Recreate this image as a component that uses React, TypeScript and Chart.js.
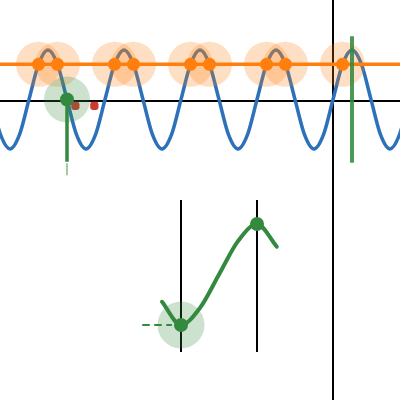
import { useEffect, useRef } from 'react';
import { Chart, registerables } from 'chart.js';

Chart.register(...registerables);

// ---- top panel (phase units: one unit = one wave period) ----
const waveX = [
  -0.5, -0.375, -0.25, -0.125, 0, 0.125, 0.25, 0.375, 0.5, 0.625, 0.75, 0.875,
  1, 1.125, 1.25, 1.375, 1.5, 1.625, 1.75, 1.875,
  2, 2.125, 2.25, 2.375, 2.5, 2.625, 2.75, 2.875,
  3, 3.125, 3.25, 3.375, 3.5, 3.625, 3.75, 3.875,
  4, 4.125, 4.25, 4.375, 4.5, 4.625, 4.75, 4.875, 5,
];
const waveY = [
  0, -0.71, -1, -0.71, 0, 0.71, 1, 0.71, 0, -0.71, -1, -0.71,
  0, 0.71, 1, 0.71, 0, -0.71, -1, -0.71,
  0, 0.71, 1, 0.71, 0, -0.71, -1, -0.71,
  0, 0.71, 1, 0.71, 0, -0.71, -1, -0.71,
  0, 0.71, 1, 0.71, 0, -0.71, -1, -0.71, 0,
];
const levelY = 0.71;
const axisY = -0.03;
const crossX = [0.125, 0.375, 1.125, 1.375, 2.125, 2.375, 3.125, 3.375, 4.125];
const markX = 0.5;
const markY = 0;
const stemLow = -1.26;
const whiskerTop = -1.29;
const whiskerLow = -1.53;
const peakLineX = 4.25;
const peakLineTop = 1.28;
const peakLineLow = -1.28;
const vLineX = 4;
const redX = [0.61, 0.86];
const redY = -0.13;

// ---- bottom panel ----
const curveX = [-0.25, 0, 0.25, 0.5, 0.75, 1, 1.26];
const curveY = [-0.54, -1, -0.66, 0, 0.66, 1, 0.55];
const dotX = [0, 1];
const dotY = [-1, 1];
const guideX = [0, 1];
const guideTop = 1.475;
const guideLow = -1.535;
const dashX = [-0.51, -0.12];
const dashY = -1;

const BLUE = '#2d72b8';
const ORANGE = '#ff7f0e';
const GREEN = '#338a3e';
const RED = '#cc3b30';

export default function App() {
  const ref = useRef<HTMLCanvasElement | null>(null);

  useEffect(() => {
    if (!ref.current) return;
    const line = (pts: { x: number; y: number }[], color: string, width: number, order: number, extra: any = {}) => ({
      type: 'scatter' as const,
      data: pts,
      showLine: true,
      borderColor: color,
      borderWidth: width,
      pointRadius: 0,
      fill: false,
      order,
      xAxisID: 'x',
      yAxisID: 'y',
      ...extra,
    });
    const pts = (xs: number[], ys: number[]) => xs.map((x, i) => ({ x, y: ys[i] }));
    const dots = (p: { x: number; y: number }[], color: string, r: number, order: number, extra: any = {}) => ({
      type: 'scatter' as const,
      data: p,
      showLine: false,
      pointRadius: r,
      pointHoverRadius: r,
      pointBackgroundColor: color,
      pointBorderWidth: 0,
      borderWidth: 0,
      order,
      xAxisID: 'x',
      yAxisID: 'y',
      ...extra,
    });
    const bottom = { xAxisID: 'x2', yAxisID: 'y2' };

    const datasets: any[] = [
      line([{ x: -1, y: axisY }, { x: 6, y: axisY }], '#000', 2, 30),
      line([{ x: vLineX, y: 3 }, { x: vLineX, y: -7 }], '#000', 2, 30),
      ...guideX.map((gx) => line([{ x: gx, y: guideTop }, { x: gx, y: guideLow }], '#000', 2, 30, bottom)),
      line(pts(waveX, waveY), BLUE, 3.5, 29, { cubicInterpolationMode: 'monotone' }),
      line([{ x: -1, y: levelY }, { x: 6, y: levelY }], ORANGE, 3.5, 28),
      dots(redX.map((x) => ({ x, y: redY })), RED, 4.8, 27, { pointStyle: 'rectRounded' }),
      dots(crossX.map((x) => ({ x, y: levelY })), 'rgba(255,127,14,0.25)', 22.5, 26),
      dots(crossX.map((x) => ({ x, y: levelY })), ORANGE, 6.5, 25),
      dots([{ x: markX, y: markY }], 'rgba(51,138,62,0.25)', 23, 24),
      dots([{ x: dotX[0], y: dotY[0] }], 'rgba(51,138,62,0.25)', 23.5, 24, bottom),
      line([{ x: markX, y: markY }, { x: markX, y: stemLow }], GREEN, 3.5, 23),
      line([{ x: markX, y: whiskerTop }, { x: markX, y: whiskerLow }], 'rgba(51,138,62,0.6)', 1.5, 23),
      line([{ x: peakLineX, y: peakLineTop }, { x: peakLineX, y: peakLineLow }], 'rgba(51,138,62,0.88)', 4, 23),
      line(pts(curveX, curveY), GREEN, 4, 22, { ...bottom, cubicInterpolationMode: 'monotone', borderCapStyle: 'round' }),
      line(dashX.map((x) => ({ x, y: dashY })), GREEN, 2, 22, { ...bottom, borderDash: [7.5, 4.5] }),
      dots([{ x: markX, y: markY }], GREEN, 7, 21),
      dots(pts(dotX, dotY), GREEN, 7, 21, bottom),
    ];

    const chart = new Chart(ref.current, {
      type: 'scatter',
      data: { datasets },
      options: {
        animation: false,
        responsive: false,
        events: [],
        layout: { padding: 0, autoPadding: false },
        plugins: { legend: { display: false }, tooltip: { enabled: false } },
        scales: {
          x: { type: 'linear', display: false, min: -29 / 76, max: 371 / 76 },
          y: { type: 'linear', display: false, min: (99.5 - 400) / 49.5, max: 99.5 / 49.5 },
          x2: { type: 'linear', display: false, min: -181 / 76, max: 219 / 76 },
          y2: { type: 'linear', display: false, min: (274.5 - 400) / 50.5, max: 274.5 / 50.5 },
        },
      },
    });
    return () => chart.destroy();
  }, []);

  return (
    <div style={{ position: 'fixed', left: 0, top: 0, width: 400, height: 400, background: '#fff' }}>
      <canvas ref={ref} width={400} height={400} />
    </div>
  );
}
